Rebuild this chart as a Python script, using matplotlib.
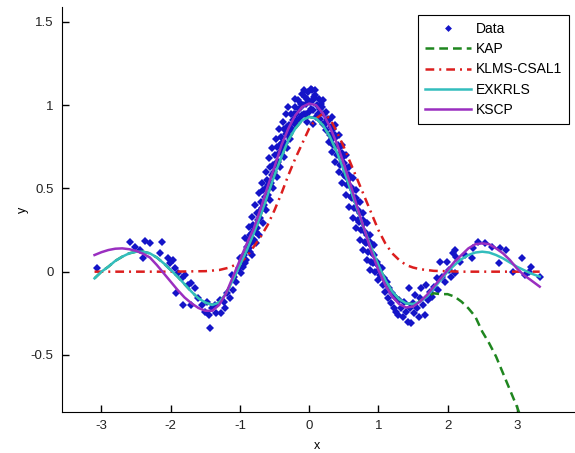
import matplotlib
matplotlib.use("Agg")
import matplotlib.pyplot as plt

plt.rcParams['font.family'] = ['Liberation Sans', 'DejaVu Sans']

# noisy samples (left lobe, main lobe, right lobe)
data_left = [(-3.07, 0.02), (-2.59, 0.18), (-2.52, 0.15), (-2.45, 0.13), (-2.40, 0.08),
             (-2.37, 0.185), (-2.30, 0.17), (-2.16, 0.11), (-2.13, 0.18), (-2.04, 0.08),
             (-2.01, 0.05), (-1.97, 0.07), (-1.94, 0.02), (-1.92, -0.13), (-1.89, -0.01),
             (-1.84, -0.04), (-1.82, -0.20), (-1.80, -0.02), (-1.75, -0.08), (-1.70, -0.07),
             (-1.70, -0.20), (-1.65, -0.10), (-1.60, -0.16), (-1.55, -0.20), (-1.51, -0.24),
             (-1.47, -0.18), (-1.44, -0.26), (-1.43, -0.34), (-1.40, -0.22), (-1.36, -0.20),
             (-1.34, -0.25), (-1.29, -0.17), (-1.27, -0.25), (-1.23, -0.18), (-1.21, -0.22),
             (-1.19, -0.13), (-1.15, -0.16), (-1.12, -0.02), (-1.10, -0.11), (-1.08, -0.03),
             (-1.06, -0.06), (-1.02, 0.02), (-1.00, 0.08), (-0.98, -0.01)]

data_peak = [(-0.96, 0.03), (-0.94, 0.10), (-0.91, 0.07), (-0.90, 0.15), (-0.88, 0.19),
             (-0.86, 0.12), (-0.85, 0.22), (-0.84, 0.17), (-0.81, 0.28), (-0.80, 0.19),
             (-0.79, 0.25), (-0.76, 0.35), (-0.75, 0.26), (-0.74, 0.31), (-0.71, 0.32),
             (-0.70, 0.42), (-0.69, 0.37), (-0.66, 0.49), (-0.65, 0.40), (-0.64, 0.45),
             (-0.61, 0.55), (-0.60, 0.46), (-0.59, 0.52), (-0.56, 0.63), (-0.55, 0.53),
             (-0.54, 0.58), (-0.51, 0.60), (-0.50, 0.70), (-0.49, 0.64), (-0.46, 0.75),
             (-0.45, 0.66), (-0.44, 0.71), (-0.41, 0.81), (-0.40, 0.72), (-0.39, 0.77),
             (-0.36, 0.86), (-0.35, 0.77), (-0.34, 0.83), (-0.31, 0.99), (-0.30, 0.82),
             (-0.29, 0.88), (-0.26, 0.95), (-0.25, 0.86), (-0.24, 0.91), (-0.21, 0.99),
             (-0.20, 0.89), (-0.19, 0.95), (-0.16, 1.03), (-0.15, 0.92), (-0.14, 0.98),
             (-0.11, 1.07), (-0.10, 0.94), (-0.09, 1.00), (-0.06, 1.05), (-0.05, 0.95),
             (-0.04, 1.01), (-0.01, 1.08), (0.00, 0.96), (0.01, 1.02), (0.04, 1.09),
             (0.05, 0.97), (0.06, 1.03), (0.09, 1.06), (0.10, 0.93), (0.11, 1.00),
             (0.14, 1.04), (0.15, 0.92), (0.16, 0.98), (0.19, 0.99), (0.20, 0.89),
             (0.21, 0.95), (0.24, 0.96), (0.25, 0.85), (0.26, 0.91), (0.29, 0.91),
             (0.30, 0.82), (0.31, 0.87), (0.34, 0.86), (0.35, 0.76), (0.36, 0.82),
             (0.39, 0.81), (0.40, 0.70), (0.41, 0.76), (0.44, 0.75), (0.45, 0.64),
             (0.46, 0.70), (0.49, 0.69), (0.50, 0.58), (0.51, 0.65), (0.54, 0.62),
             (0.55, 0.52), (0.56, 0.58), (0.59, 0.56), (0.60, 0.45), (0.61, 0.51),
             (0.64, 0.49), (0.65, 0.38), (0.66, 0.44), (0.69, 0.42), (0.70, 0.31),
             (0.71, 0.37), (0.74, 0.35), (0.75, 0.25), (0.76, 0.30), (0.79, 0.29),
             (0.80, 0.18), (0.81, 0.24), (0.84, 0.22), (0.85, 0.12), (0.86, 0.17),
             (0.89, 0.16), (0.90, 0.06), (0.91, 0.11), (0.94, 0.10), (0.95, 0.00),
             (0.96, 0.05), (0.99, 0.04), (1.00, -0.05), (1.01, 0.01),
             (-0.925, 0.05), (-0.875, 0.14), (-0.825, 0.23), (-0.775, 0.24), (-0.725, 0.36),
             (-0.675, 0.38), (-0.625, 0.50), (-0.575, 0.51), (-0.525, 0.64), (-0.475, 0.65),
             (-0.425, 0.76), (-0.375, 0.75), (-0.325, 0.87), (-0.275, 0.85), (-0.225, 0.95),
             (-0.175, 0.91), (-0.125, 1.01), (-0.075, 0.95), (-0.025, 1.04), (0.025, 0.98),
             (0.075, 1.05), (0.125, 0.95), (0.175, 1.01), (0.225, 0.89), (0.275, 0.92),
             (0.325, 0.80), (0.375, 0.82), (0.425, 0.70), (0.475, 0.71), (0.525, 0.57),
             (0.575, 0.58), (0.625, 0.44), (0.675, 0.44), (0.725, 0.30), (0.775, 0.31),
             (0.825, 0.17), (0.875, 0.18), (0.925, 0.05), (0.975, 0.06)]

# the wider spread of samples on both flanks of the main lobe
data_spread = [(-0.93, 0.20), (-0.87, 0.27), (-0.83, 0.33), (-0.78, 0.40), (-0.73, 0.47),
               (-0.68, 0.53), (-0.63, 0.60), (-0.58, 0.68), (-0.53, 0.74), (-0.48, 0.80),
               (-0.43, 0.86), (-0.38, 0.90), (-0.33, 0.95), (-0.82, 0.10), (-0.77, 0.17),
               (-0.72, 0.22), (-0.67, 0.29), (-0.62, 0.37), (-0.57, 0.43), (-0.52, 0.50),
               (-0.47, 0.57), (-0.42, 0.63), (-0.37, 0.69), (-0.32, 0.74), (-0.27, 0.80),
               (0.33, 0.93), (0.38, 0.88), (0.43, 0.82), (0.48, 0.76), (0.53, 0.70),
               (0.58, 0.63), (0.63, 0.56), (0.68, 0.49), (0.73, 0.42), (0.78, 0.35),
               (0.83, 0.29), (0.88, 0.22), (0.93, 0.16), (0.28, 0.78), (0.33, 0.72),
               (0.38, 0.66), (0.43, 0.60), (0.48, 0.53), (0.53, 0.46), (0.58, 0.39),
               (0.63, 0.32), (0.68, 0.26), (0.73, 0.19), (0.78, 0.13), (0.83, 0.07),
               (0.88, 0.01), (-0.08, 1.09), (0.02, 1.10), (0.08, 1.09), (-0.20, 1.04),
               (0.20, 1.03), (-0.03, 0.90), (0.05, 0.89)]

data_right = [(1.03, -0.02), (1.05, 0.02), (1.06, -0.08), (1.08, -0.04), (1.10, -0.12),
              (1.12, -0.06), (1.14, -0.16), (1.16, -0.10), (1.18, -0.19), (1.20, -0.13),
              (1.22, -0.22), (1.24, -0.15), (1.26, -0.24), (1.29, -0.26), (1.30, -0.17),
              (1.33, -0.22), (1.35, -0.27), (1.37, -0.18), (1.40, -0.24), (1.43, -0.30),
              (1.44, -0.10), (1.46, -0.22), (1.47, -0.31), (1.50, -0.19), (1.52, -0.25),
              (1.53, -0.14), (1.56, -0.22), (1.58, -0.27), (1.60, -0.16), (1.62, -0.10),
              (1.65, -0.20), (1.68, -0.26), (1.69, -0.08), (1.72, -0.17), (1.75, -0.12),
              (1.78, -0.15), (1.80, -0.09), (1.84, -0.04), (1.86, -0.11), (1.89, 0.06),
              (1.92, -0.03), (1.96, -0.06), (1.99, 0.06), (2.02, 0.01), (2.05, -0.03),
              (2.08, 0.11), (2.10, -0.01), (2.11, 0.13), (2.12, 0.09), (2.18, 0.06),
              (2.25, 0.10), (2.35, 0.08), (2.37, 0.14), (2.44, 0.18), (2.54, 0.17),
              (2.64, 0.15), (2.74, 0.05), (2.76, 0.14), (2.84, 0.13), (2.95, 0.00),
              (3.07, 0.08), (3.12, -0.02), (3.17, 0.00), (3.21, 0.03), (3.33, -0.03)]

# fitted curves, sampled every 0.1
curve_x = [-3.1, -3.0, -2.9, -2.8, -2.7, -2.6, -2.5, -2.4, -2.3, -2.2, -2.1, -2.0, -1.9,
           -1.8, -1.7, -1.6, -1.5, -1.4, -1.3, -1.2, -1.1, -1.0, -0.9, -0.8, -0.7, -0.6,
           -0.5, -0.4, -0.3, -0.2, -0.1, 0.0, 0.1, 0.2, 0.3, 0.4, 0.5, 0.6, 0.7, 0.8, 0.9,
           1.0, 1.1, 1.2, 1.3, 1.4, 1.5, 1.6, 1.7, 1.8, 1.9, 2.0, 2.1, 2.2, 2.3, 2.4, 2.5,
           2.6, 2.7, 2.8, 2.9, 3.0, 3.1, 3.2, 3.33]

kscp_y = [0.10, 0.117, 0.13, 0.138, 0.14, 0.135, 0.125, 0.108, 0.085, 0.04, -0.01, -0.06,
          -0.11, -0.155, -0.19, -0.218, -0.235, -0.235, -0.20, -0.13, -0.03, 0.07, 0.17,
          0.26, 0.38, 0.51, 0.63, 0.76, 0.86, 0.94, 0.99, 1.01, 1.00, 0.95, 0.87, 0.77, 0.65,
          0.52, 0.38, 0.25, 0.12, 0.01, -0.08, -0.15, -0.195, -0.215, -0.21, -0.18, -0.14,
          -0.09, -0.04, 0.01, 0.06, 0.10, 0.14, 0.165, 0.17, 0.165, 0.14, 0.11, 0.07, 0.02,
          -0.02, -0.05, -0.09]

exkrls_y = [-0.04, 0.0, 0.03, 0.065, 0.09, 0.11, 0.12, 0.12, 0.11, 0.085, 0.05, 0.01, -0.03,
            -0.075, -0.12, -0.16, -0.185, -0.20, -0.185, -0.13, -0.05, 0.04, 0.13, 0.23, 0.34,
            0.46, 0.58, 0.69, 0.79, 0.86, 0.91, 0.93, 0.92, 0.88, 0.81, 0.72, 0.61, 0.49, 0.37,
            0.25, 0.14, 0.04, -0.05, -0.12, -0.165, -0.19, -0.195, -0.18, -0.15, -0.10, -0.05,
            0.0, 0.04, 0.075, 0.10, 0.115, 0.12, 0.115, 0.10, 0.08, 0.055, 0.03, 0.01, -0.01,
            -0.03]

kap_x = [-3.1, -3.0, -2.9, -2.8, -2.7, -2.6, -2.5, -2.4, -2.3, -2.2, -2.1, -2.0, -1.9,
         -1.8, -1.7, -1.6, -1.5, -1.4, -1.3, -1.2, -1.1, -1.0, -0.9, -0.8, -0.7, -0.6,
         -0.5, -0.4, -0.3, -0.2, -0.1, 0.0, 0.1, 0.2, 0.3, 0.4, 0.5, 0.6, 0.7, 0.8, 0.9,
         1.0, 1.1, 1.2, 1.3, 1.4, 1.5, 1.6, 1.7, 1.8, 1.9, 2.0, 2.1, 2.2, 2.3, 2.4, 2.5,
         2.6, 2.7, 2.8, 2.9, 3.0, 3.1]
kap_y = [-0.04, 0.0, 0.03, 0.065, 0.09, 0.11, 0.12, 0.12, 0.11, 0.085, 0.05, 0.01, -0.03,
         -0.075, -0.12, -0.16, -0.185, -0.20, -0.185, -0.13, -0.05, 0.04, 0.13, 0.23, 0.34,
         0.46, 0.58, 0.69, 0.79, 0.86, 0.91, 0.93, 0.92, 0.88, 0.81, 0.72, 0.61, 0.49, 0.37,
         0.25, 0.14, 0.04, -0.05, -0.12, -0.165, -0.19, -0.195, -0.175, -0.15, -0.13, -0.135,
         -0.135, -0.15, -0.18, -0.22, -0.27, -0.36, -0.43, -0.51, -0.61, -0.71, -0.81, -0.92]

klms_x = [-3.1, -2.5, -2.0, -1.5, -1.3, -1.15, -1.0, -0.9, -0.8, -0.7, -0.6, -0.5, -0.4,
          -0.3, -0.2, -0.1, 0.0, 0.1, 0.2, 0.3, 0.4, 0.5, 0.6, 0.7, 0.8, 0.9, 1.0, 1.1, 1.2,
          1.3, 1.4, 1.5, 1.6, 1.8, 2.2, 2.8, 3.33]
klms_y = [0, 0, 0, 0.003, 0.01, 0.025, 0.055, 0.09, 0.15, 0.21, 0.28, 0.37, 0.47, 0.58,
          0.68, 0.77, 0.86, 0.92, 0.95, 0.92, 0.84, 0.75, 0.65, 0.55, 0.45, 0.35, 0.25, 0.17,
          0.11, 0.07, 0.04, 0.025, 0.015, 0.005, 0, 0, 0]

xticks = [-3, -2, -1, 0, 1, 2, 3]
xtick_labels = ['-3', '-2', '-1', '0', '1', '2', '3']
yticks = [-0.5, 0, 0.5, 1, 1.5]
ytick_labels = ['-0.5', '0', '0.5', '1', '1.5']

points = data_left + data_peak + data_spread + data_right
px = [p[0] for p in points]
py = [p[1] for p in points]

fig = plt.figure(figsize=(5.75, 4.53), dpi=100)
ax = fig.add_axes([62 / 575, 41 / 453, 513 / 575, 405 / 453])

ax.plot(px, py, 'D', color='#1414c8', markersize=4.2, markeredgewidth=0, label='Data')
ax.plot(kap_x, kap_y, color='#1f861f', lw=1.8, dashes=(3.5, 2), label='KAP')
ax.plot(klms_x, klms_y, color='#dc1e1e', lw=1.8, dashes=(3.5, 2, 0.8, 2), label='KLMS-CSAL1')
ax.plot(curve_x, exkrls_y, color='#33bdbd', lw=1.8, label='EXKRLS')
ax.plot(curve_x, kscp_y, color='#9a2fc0', lw=1.8, label='KSCP')

ax.set_xlim(-3.57, 3.84)
ax.set_ylim(-0.843, 1.59)
ax.set_xticks(xticks)
ax.set_xticklabels(xtick_labels)
ax.set_yticks(yticks)
ax.set_yticklabels(ytick_labels)
ax.tick_params(direction='in', length=5, width=1, labelsize=9.5, pad=6, labelcolor='#222222')
ax.spines['top'].set_visible(False)
ax.spines['right'].set_visible(False)

ax.set_xlabel('x', fontsize=9)
ax.set_ylabel('y', fontsize=9)
ax.xaxis.set_label_coords(0.497, -0.07)
ax.yaxis.set_label_coords(-0.065, 0.5)

leg = ax.legend(loc='upper right', bbox_to_anchor=(569 / 575, 438 / 453),
                bbox_transform=fig.transFigure, borderaxespad=0, fontsize=10,
                numpoints=1, handlelength=3.3, handletextpad=0.35, labelspacing=0.45,
                fancybox=False, framealpha=1, borderpad=0.5)
leg.get_frame().set_edgecolor('black')
leg.get_frame().set_linewidth(0.8)
leg.legend_handles[0].set_markersize(3.5)

fig.savefig('out.png', dpi=100)
